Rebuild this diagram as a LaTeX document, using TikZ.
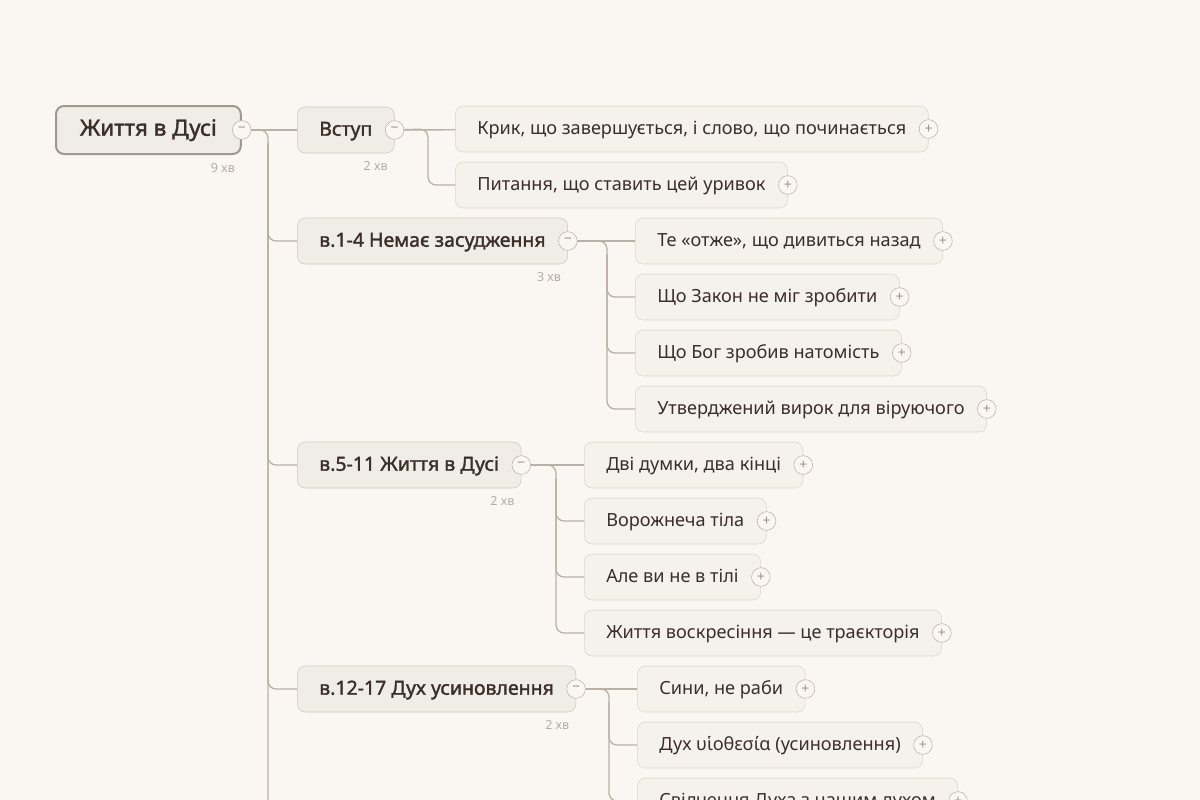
\documentclass[tikz,border=0pt]{standalone}
\usepackage{fontspec}
\setmainfont{Noto Sans}[BoldFont={Noto Sans}, BoldFeatures={FakeBold=1.6}]
\usetikzlibrary{positioning}
\definecolor{bgcol}{HTML}{FAF7F2}
\definecolor{inkcol}{HTML}{3B2F28}
\definecolor{leafcol}{HTML}{F5F1EB}
\definecolor{leafline}{HTML}{DAD4CC}
\definecolor{topiccol}{HTML}{F0ECE6}
\definecolor{topicline}{HTML}{CDC6BD}
\definecolor{rootline}{HTML}{9E9891}
\definecolor{linkcol}{HTML}{B9B1A7}
\definecolor{durcol}{HTML}{B3ADA6}
\definecolor{signcol}{HTML}{9C958E}
\begin{document}
\begin{tikzpicture}[
    x=0.75pt, y=-0.75pt,
    leaf/.style={rectangle, draw=leafline, fill=leafcol, rounded corners=6pt, minimum height=34.5pt, inner xsep=16.5pt, text height=0.9em, text depth=0.04em, text=inkcol, font=\fontsize{13.6}{15}\selectfont, anchor=west},
    topic/.style={leaf, draw=topicline, fill=topiccol, font=\fontsize{14.6}{16}\selectfont\bfseries},
    rootbox/.style={topic, draw=rootline, line width=1.5pt, minimum height=36pt, inner xsep=18pt, font=\fontsize{16.8}{18}\selectfont\bfseries},
    toggle/.style={circle, draw=linkcol, fill=bgcol, minimum size=14pt, inner sep=0pt, text=signcol, font=\fontsize{10.5}{10}\selectfont},
    dur/.style={text=durcol, font=\fontsize{9.4}{10}\selectfont, inner sep=0pt, anchor=north east},
    link/.style={draw=linkcol, line width=1pt, rounded corners=6pt}
]
    \fill[bgcol] (0,0) rectangle (1200,800);
    \useasboundingbox (0,0) rectangle (1200,800);

    % root
    \node[rootbox] (root) at (55,130) {Життя в Дусі};
    \node[toggle] (root-t) at (root.east) {−};
    \node[dur] (root-d) at ([xshift=-5pt,yshift=-6pt]root.south east) {9 хв};

    % level 1
    \node[topic] (vstup) at (297,130) {Вступ};
    \node[topic] (nemaie) at (297,241) {в.1-4 Немає засудження};
    \node[topic] (zhyttia) at (297,465) {в.5-11 Життя в Дусі};
    \node[topic] (dukh) at (297,689) {в.12-17 Дух усиновлення};
    \foreach \n/\d in {vstup/2, nemaie/3, zhyttia/2, dukh/2} {
        \node[toggle] (\n-t) at (\n.east) {−};
        \node[dur] (\n-d) at ([xshift=-5pt,yshift=-6pt]\n.south east) {\d\ хв};
    }

    % level 2
    \node[leaf] (vstup-a) at (455,129) {Крик, що завершується, і слово, що починається};
    \node[leaf] (vstup-b) at (455,185) {Питання, що ставить цей уривок};

    \node[leaf] (nemaie-a) at (635,241) {Те «отже», що дивиться назад};
    \node[leaf] (nemaie-b) at (635,297) {Що Закон не міг зробити};
    \node[leaf] (nemaie-c) at (635,353) {Що Бог зробив натомість};
    \node[leaf] (nemaie-d) at (635,409) {Утверджений вирок для віруючого};

    \node[leaf] (zhyttia-a) at (584,465) {Дві думки, два кінці};
    \node[leaf] (zhyttia-b) at (584,521) {Ворожнеча тіла};
    \node[leaf] (zhyttia-c) at (584,577) {Але ви не в тілі};
    \node[leaf] (zhyttia-d) at (584,633) {Життя воскресіння — це траєкторія};

    \node[leaf] (dukh-a) at (637,689) {Сини, не раби};
    \node[leaf] (dukh-b) at (637,745) {Дух υἱοθεσία (усиновлення)};
    \node[leaf] (dukh-c) at (637,801) {Свідчення Духа з нашим духом};

    \foreach \n in {vstup-a, vstup-b, nemaie-a, nemaie-b, nemaie-c, nemaie-d,
                    zhyttia-a, zhyttia-b, zhyttia-c, zhyttia-d, dukh-a, dukh-b, dukh-c}
        \node[toggle] (\n-t) at (\n.east) {+};

    % connectors
    \coordinate (root-bus) at (268,130);
    \coordinate (root-end) at (268,830);
    \draw[link] (root-t) -- (vstup);
    \draw[link] (root-t) -- (root-bus) -- (root-end);
    \foreach \n in {nemaie, zhyttia, dukh}
        \draw[link] ([yshift=-10pt]root-bus) |- (\n);

    \coordinate (vstup-bus) at (428,129);
    \draw[link] (vstup-t) -- (vstup-a);
    \draw[link] (vstup-t) -- (vstup-bus) |- (vstup-b);

    \coordinate (nemaie-bus) at (607,241);
    \draw[link] (nemaie-t) -- (nemaie-a);
    \draw[link] (nemaie-t) -- (nemaie-bus) |- (nemaie-d);
    \foreach \c in {b, c}
        \draw[link] ([yshift=-10pt]nemaie-bus) |- (nemaie-\c);

    \coordinate (zhyttia-bus) at (556,465);
    \draw[link] (zhyttia-t) -- (zhyttia-a);
    \draw[link] (zhyttia-t) -- (zhyttia-bus) |- (zhyttia-d);
    \foreach \c in {b, c}
        \draw[link] ([yshift=-10pt]zhyttia-bus) |- (zhyttia-\c);

    \coordinate (dukh-bus) at (609,689);
    \draw[link] (dukh-t) -- (dukh-a);
    \draw[link] (dukh-t) -- (dukh-bus) |- (dukh-c);
    \draw[link] ([yshift=-10pt]dukh-bus) |- (dukh-b);
\end{tikzpicture}
\end{document}
